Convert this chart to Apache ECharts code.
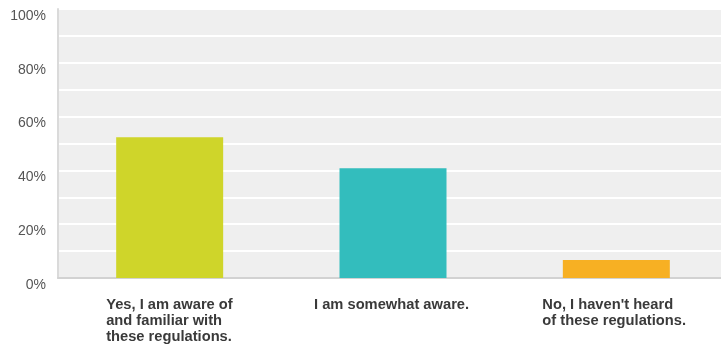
<!DOCTYPE html>
<html>
<head>
<meta charset="utf-8">
<script src="https://cdn.jsdelivr.net/npm/echarts@6/dist/echarts.min.js"></script>
<style>
    html, body { margin: 0; padding: 0; background: #fff; }
    #chart { width: 721px; height: 345px; }
</style>
</head>
<body>
<div id="chart"></div>
<script>
/* data */
var categories = [
    'Yes, I am aware of\nand familiar with\nthese regulations.',
    'I am somewhat aware.',
    "No, I haven't heard\nof these regulations."
];
var values = [52.3, 40.8, 6.7];
var barColors = ['#cfd52a', '#33bdbd', '#f7b023'];
var yTicks = [0, 20, 40, 60, 80, 100];

/* width of each label block, so lines stay left aligned inside a centred block */
var labelWidths = [127, 158, 148];

var rich = {};
labelWidths.forEach(function (w, i) {
    rich['c' + i] = {
        width: w,
        align: 'left',
        fontFamily: 'Liberation Sans, Arial, sans-serif',
        fontSize: 14.7,
        fontWeight: 'bold',
        color: '#3a3a3a',
        lineHeight: 16
    };
});

var chart = echarts.init(document.getElementById('chart'));
chart.setOption({
    animation: false,
    grid: {
        left: 58,
        top: 9,
        bottom: 67,
        right: -7,
        outerBoundsMode: 'none',
        containLabel: false,
        show: true,
        backgroundColor: '#efefef',
        borderWidth: 0
    },
    xAxis: {
        type: 'category',
        data: categories,
        axisTick: { show: false },
        axisLine: { show: true, lineStyle: { color: '#d2d2d2', width: 2 } },
        axisLabel: {
            margin: 19,
            interval: 0,
            formatter: function (val, idx) {
                return val.split('\n').map(function (line) {
                    return '{c' + idx + '|' + line + '}';
                }).join('\n');
            },
            rich: rich
        }
    },
    yAxis: {
        type: 'value',
        min: 0,
        max: 100,
        interval: 10,
        axisLine: { show: true, lineStyle: { color: '#dadada', width: 2 } },
        axisTick: { show: false },
        splitLine: { show: true, lineStyle: { color: '#ffffff', width: 2 } },
        axisLabel: {
            margin: 12,
            verticalAlign: 'top',
            fontFamily: 'Liberation Sans, Arial, sans-serif',
            fontSize: 14,
            color: '#555555',
            formatter: function (v) {
                return yTicks.indexOf(v) >= 0 ? v + '%' : '';
            }
        }
    },
    series: [{
        type: 'bar',
        barWidth: 107,
        data: values.map(function (v, i) {
            return { value: v, itemStyle: { color: barColors[i] } };
        })
    }]
});
</script>
</body>
</html>
